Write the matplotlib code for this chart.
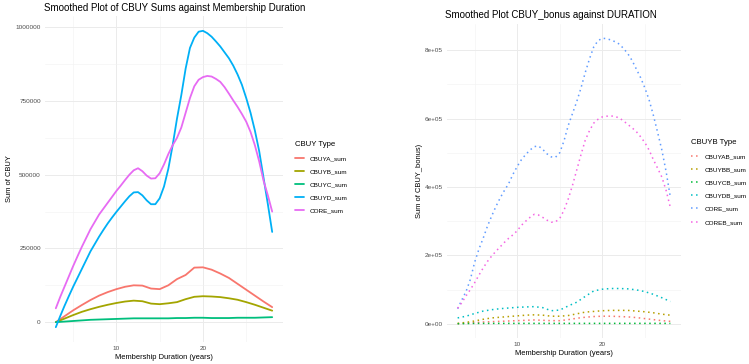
import matplotlib
matplotlib.use("Agg")
import matplotlib.pyplot as plt
from matplotlib.ticker import FixedLocator, FuncFormatter

plt.rcParams['font.family'] = ['Liberation Sans', 'DejaVu Sans']

# membership duration (years)
duration = list(range(3, 29))
duration_half = [3 + i * 0.5 for i in range(51)]

# left panel: CBUY sums (thousands)
cbuya_sum = [0, 20, 40, 58, 75, 90, 102, 112, 120, 125, 124, 114, 112, 125,
             146, 160, 185, 186, 178, 165, 150, 130, 110, 90, 70, 51]
cbuyb_sum = [0, 12, 24, 35, 44, 52, 59, 65, 70, 73, 71, 63, 61, 64,
             68, 78, 86, 88, 87, 85, 81, 76, 68, 59, 49, 39]
cbuyc_sum = [0, 2, 4, 6, 8, 9, 10, 11, 12, 13, 13, 13, 13, 13,
             14, 14, 15, 15, 14, 14, 14, 15, 15, 15, 16, 17]
# these two read every half year
cbuyd_sum = [-17, 20, 55, 88, 120, 150, 180, 210, 240, 265, 290, 313, 335, 355,
             374, 392, 410, 427, 440, 441, 430, 413, 400, 400, 420, 460, 520,
             600, 690, 770, 860, 930, 965, 985, 988, 980, 968, 952, 935, 915,
             895, 870, 840, 805, 760, 710, 650, 580, 490, 400, 306]
core_sum = [47, 85, 120, 155, 190, 223, 255, 285, 315, 340, 365, 385, 405, 425,
            445, 463, 482, 500, 515, 522, 512, 497, 487, 488, 505, 535, 570,
            600, 625, 660, 710, 760, 800, 822, 831, 835, 833, 825, 815, 797,
            775, 752, 730, 706, 680, 645, 600, 545, 480, 430, 375]

# right panel: CBUY bonus sums (thousands)
cbuyab_sum = [0, 2, 3, 5, 6, 7, 8, 9, 10, 11, 10, 9, 9, 12,
              16, 19, 21, 22, 22, 21, 20, 18, 15, 12, 9, 7]
cbuybb_sum = [1, 4, 8, 13, 17, 19, 21, 23, 25, 26, 25, 22, 22, 24,
              29, 34, 36, 38, 39, 39, 39, 37, 35, 32, 28, 25]
cbuycb_sum = [0, 0.5, 1, 1, 1, 1, 1, 1, 1, 1, 1, 1, 1, 1,
              1, 1, 1, 1, 1, 1, 1, 1, 1, 1, 1, 1]
cbuydb_sum = [17, 22, 30, 37, 41, 44, 46, 48, 49, 50, 47, 38, 40, 52,
              63, 80, 96, 101, 103, 103, 102, 99, 94, 86, 76, 65]
# half-year readings
core_b_panel = [44, 70, 95, 130, 180, 218, 250, 285, 315, 343, 368, 390, 410, 437,
                460, 480, 495, 508, 518, 520, 510, 497, 488, 487, 500, 535, 580,
                615, 650, 690, 735, 775, 810, 828, 835, 834, 830, 825, 818, 805,
                790, 770, 745, 720, 690, 655, 610, 560, 508, 445, 370]
coreb_sum = [45, 62, 82, 100, 120, 142, 163, 182, 198, 212, 225, 238, 250, 260,
             272, 288, 300, 311, 320, 318, 311, 303, 297, 298, 308, 332, 365,
             405, 450, 495, 537, 565, 587, 598, 605, 607, 608, 606, 602, 593,
             583, 573, 562, 547, 530, 508, 480, 455, 429, 390, 340]

left_series = [("CBUYA_sum", duration, cbuya_sum, "#F8766D"),
               ("CBUYB_sum", duration, cbuyb_sum, "#A3A500"),
               ("CBUYC_sum", duration, cbuyc_sum, "#00BF7D"),
               ("CBUYD_sum", duration_half, cbuyd_sum, "#00B0F6"),
               ("CORE_sum", duration_half, core_sum, "#E76BF3")]
right_series = [("CBUYAB_sum", duration, cbuyab_sum, "#F8766D"),
                ("CBUYBB_sum", duration, cbuybb_sum, "#B79F00"),
                ("CBUYCB_sum", duration, cbuycb_sum, "#00BA38"),
                ("CBUYDB_sum", duration, cbuydb_sum, "#00BFC4"),
                ("CORE_sum", duration_half, core_b_panel, "#619CFF"),
                ("COREB_sum", duration_half, coreb_sum, "#F564E3")]

W, H = 749, 364
fig = plt.figure(figsize=(W / 100, H / 100), dpi=100)


def px_axes(x0, y0, x1, y1):
    return fig.add_axes([x0 / W, 1 - y1 / H, (x1 - x0) / W, (y1 - y0) / H])


def style_axes(ax, yticks, yminor, fmt):
    for s in ax.spines.values():
        s.set_visible(False)
    ax.xaxis.set_major_locator(FixedLocator([10, 20]))
    ax.xaxis.set_minor_locator(FixedLocator([5, 15, 25]))
    ax.yaxis.set_major_locator(FixedLocator(yticks))
    ax.yaxis.set_minor_locator(FixedLocator(yminor))
    ax.yaxis.set_major_formatter(FuncFormatter(fmt))
    ax.tick_params(which='both', length=0, labelsize=4.6, colors='#4d4d4d', pad=3)
    ax.grid(which='major', color='#ebebeb', lw=0.7)
    ax.grid(which='minor', color='#f2f2f2', lw=0.4)
    ax.set_axisbelow(True)
    ax.margins(x=0.05, y=0.05)


# ---- left panel
ax1 = px_axes(45, 16, 283, 342)
for name, xs, vals, col in left_series:
    ax1.plot(xs, [v * 1000 for v in vals], color=col, lw=1.3, label=name,
             solid_capstyle='round')
style_axes(ax1, [0, 250000, 500000, 750000, 1000000],
           [125000, 375000, 625000, 875000], lambda v, p: f"{int(v)}")
ax1.set_xlabel("Membership Duration (years)", fontsize=5.4, labelpad=2)
ax1.set_ylabel("Sum of CBUY", fontsize=5.4, labelpad=1.5)
fig.text(44 / W, 1 - 8 / H, "Smoothed Plot of CBUY Sums against Membership Duration",
         fontsize=7, ha='left', va='center')
ax1.legend(loc='upper left', bbox_to_anchor=(295 / W, 1 - 141 / H),
           bbox_transform=fig.transFigure, frameon=False, fontsize=4.6,
           title="CBUY Type", title_fontsize=5.6, alignment='left',
           borderpad=0, borderaxespad=0, handlelength=1.4, handletextpad=0.9,
           labelspacing=1.2)

# ---- right panel
ax2 = px_axes(447, 24, 681, 338)
for name, xs, vals, col in right_series:
    ax2.plot(xs, [v * 1000 for v in vals], color=col, lw=1.1,
             linestyle=(0, (1, 2.3)), label=name)
style_axes(ax2, [0, 200000, 400000, 600000, 800000],
           [100000, 300000, 500000, 700000], lambda v, p: f"{v:.0e}")
ax2.set_xlabel("Membership Duration (years)", fontsize=5.4, labelpad=2)
ax2.set_ylabel("Sum of CBUY_bonus)", fontsize=5.4, labelpad=1.5)
fig.text(445 / W, 1 - 15 / H, "Smoothed Plot CBUY_bonus against DURATION",
         fontsize=7, ha='left', va='center')
ax2.legend(loc='upper left', bbox_to_anchor=(691 / W, 1 - 139 / H),
           bbox_transform=fig.transFigure, frameon=False, fontsize=4.6,
           title="CBUYB Type", title_fontsize=5.6, alignment='left',
           borderpad=0, borderaxespad=0, handlelength=1.5, handletextpad=0.7,
           labelspacing=1.2)

fig.savefig("out.png", dpi=100)
